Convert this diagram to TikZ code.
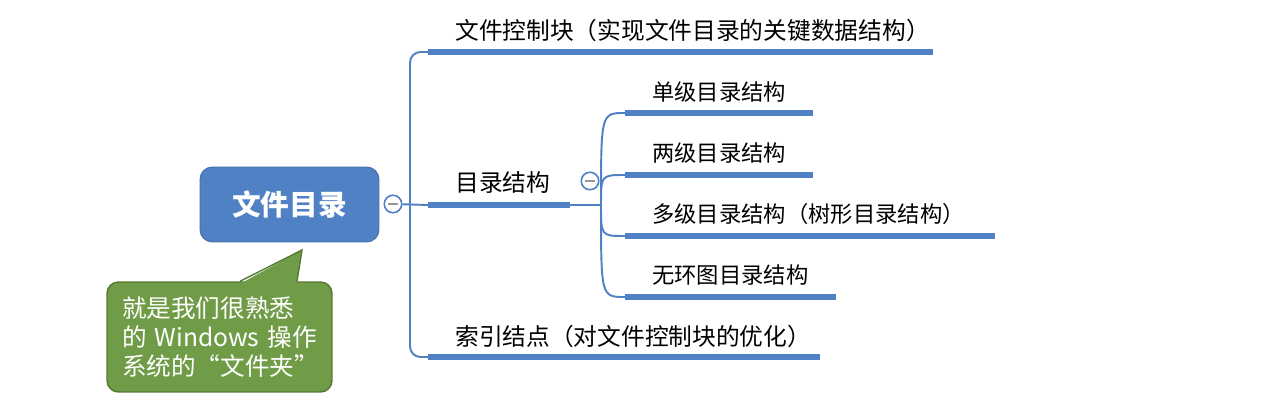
\documentclass[tikz,border=0pt]{standalone}
\usepackage{fontspec}
\setmainfont{Noto Sans CJK SC}

\begin{document}
\begin{tikzpicture}[x=0.02cm,y=-0.02cm]
  \definecolor{mapblue}{RGB}{79,129,196}
  \definecolor{notegreen}{RGB}{112,155,71}
  \definecolor{noteedge}{RGB}{86,122,54}
  \definecolor{minusgrey}{RGB}{150,150,150}

  \tikzset{
    rootbox/.style={rounded corners=7pt,fill=mapblue,draw=mapblue!85!black,line width=0.5pt,minimum width=3.58cm,minimum height=1.5cm,text=white,font=\fontsize{16.3}{18}\selectfont\bfseries},
    topic/.style={anchor=west,inner sep=0pt,text=black,font=\fontsize{13.5}{15}\selectfont},
    subtopic/.style={anchor=west,inner sep=0pt,text=black,font=\fontsize{12.7}{14}\selectfont},
    underline/.style={draw=mapblue,line width=3.3pt},
    branch/.style={draw=mapblue,line width=1.1pt},
    foldmark/.style={circle,draw=mapblue,fill=white,line width=0.9pt,minimum size=0.35cm,inner sep=0pt,
      path picture={\draw[minusgrey,line width=1.4pt] ([xshift=-2.6pt]path picture bounding box.center) -- ([xshift=2.6pt]path picture bounding box.center);}},
    notebox/.style={rounded corners=6.5pt,fill=notegreen,draw=noteedge,line width=0.8pt,minimum height=2.2cm,text width=3.9cm,inner xsep=0.3cm,align=left,text=white,font=\fontsize{14}{16.5}\selectfont}
  }

  \fill[white] (0,0) rectangle (1264,411);
  \useasboundingbox (0,0) rectangle (1264,411);

  % ---------------- root and note ----------------
  \node[rootbox] (root) at (289.5,204.5) {文件目录};
  \node[foldmark] (fold1) at (393,204) {};

  \node[notebox] (note) at (219.5,337) {就是我们很熟悉\\的 Windows 操作\\系统的“文件夹”};
  \coordinate (tip) at (302,250);
  \fill[notegreen] ([xshift=0.41cm,yshift=-0.05cm]note.north) -- (tip) -- ([xshift=1.55cm,yshift=-0.05cm]note.north) -- cycle;
  \draw[noteedge,line width=0.8pt] ([xshift=0.41cm]note.north) -- (tip) -- ([xshift=1.55cm]note.north);

  % ---------------- first level ----------------
  \coordinate (b1) at (428,52);   \coordinate (b1e) at (933,52);
  \coordinate (b2) at (428,205);  \coordinate (b2e) at (570,205);
  \coordinate (b3) at (428,357);  \coordinate (b3e) at (820,357);

  \draw[branch,rounded corners=6pt] (b1) -| (410,205) |- (b3);
  \draw[branch] (fold1) -- (b2);

  \draw[underline] (b1) -- (b1e);
  \draw[underline] (b2) -- (b2e);
  \draw[underline] (b3) -- (b3e);

  \node[topic] (t1) at (455,30) {文件控制块（实现文件目录的关键数据结构）};
  \node[topic] (t2) at (455,183) {目录结构};
  \node[topic] (t3) at (455,336) {索引结点（对文件控制块的优化）};

  % ---------------- second level ----------------
  \node[foldmark] (fold2) at (590,181) {};
  \coordinate (sj) at (601,205);
  \draw[branch] (b2e) -- (sj);

  \coordinate (s1) at (625,113);  \coordinate (s1e) at (813,113);
  \coordinate (s2) at (625,175);  \coordinate (s2e) at (813,175);
  \coordinate (s3) at (625,236);  \coordinate (s3e) at (995,236);
  \coordinate (s4) at (625,297);  \coordinate (s4e) at (836,297);

  \draw[branch] (sj) .. controls (601,113) .. (s1);
  \draw[branch] (sj) .. controls (601,175) .. (s2);
  \draw[branch] (sj) .. controls (601,236) .. (s3);
  \draw[branch] (sj) .. controls (601,297) .. (s4);

  \draw[underline] (s1) -- (s1e);
  \draw[underline] (s2) -- (s2e);
  \draw[underline] (s3) -- (s3e);
  \draw[underline] (s4) -- (s4e);

  \node[subtopic] (u1) at (652,92) {单级目录结构};
  \node[subtopic] (u2) at (652,153) {两级目录结构};
  \node[subtopic] (u3) at (652,214) {多级目录结构（树形目录结构）};
  \node[subtopic] (u4) at (652,275) {无环图目录结构};
\end{tikzpicture}
\end{document}
